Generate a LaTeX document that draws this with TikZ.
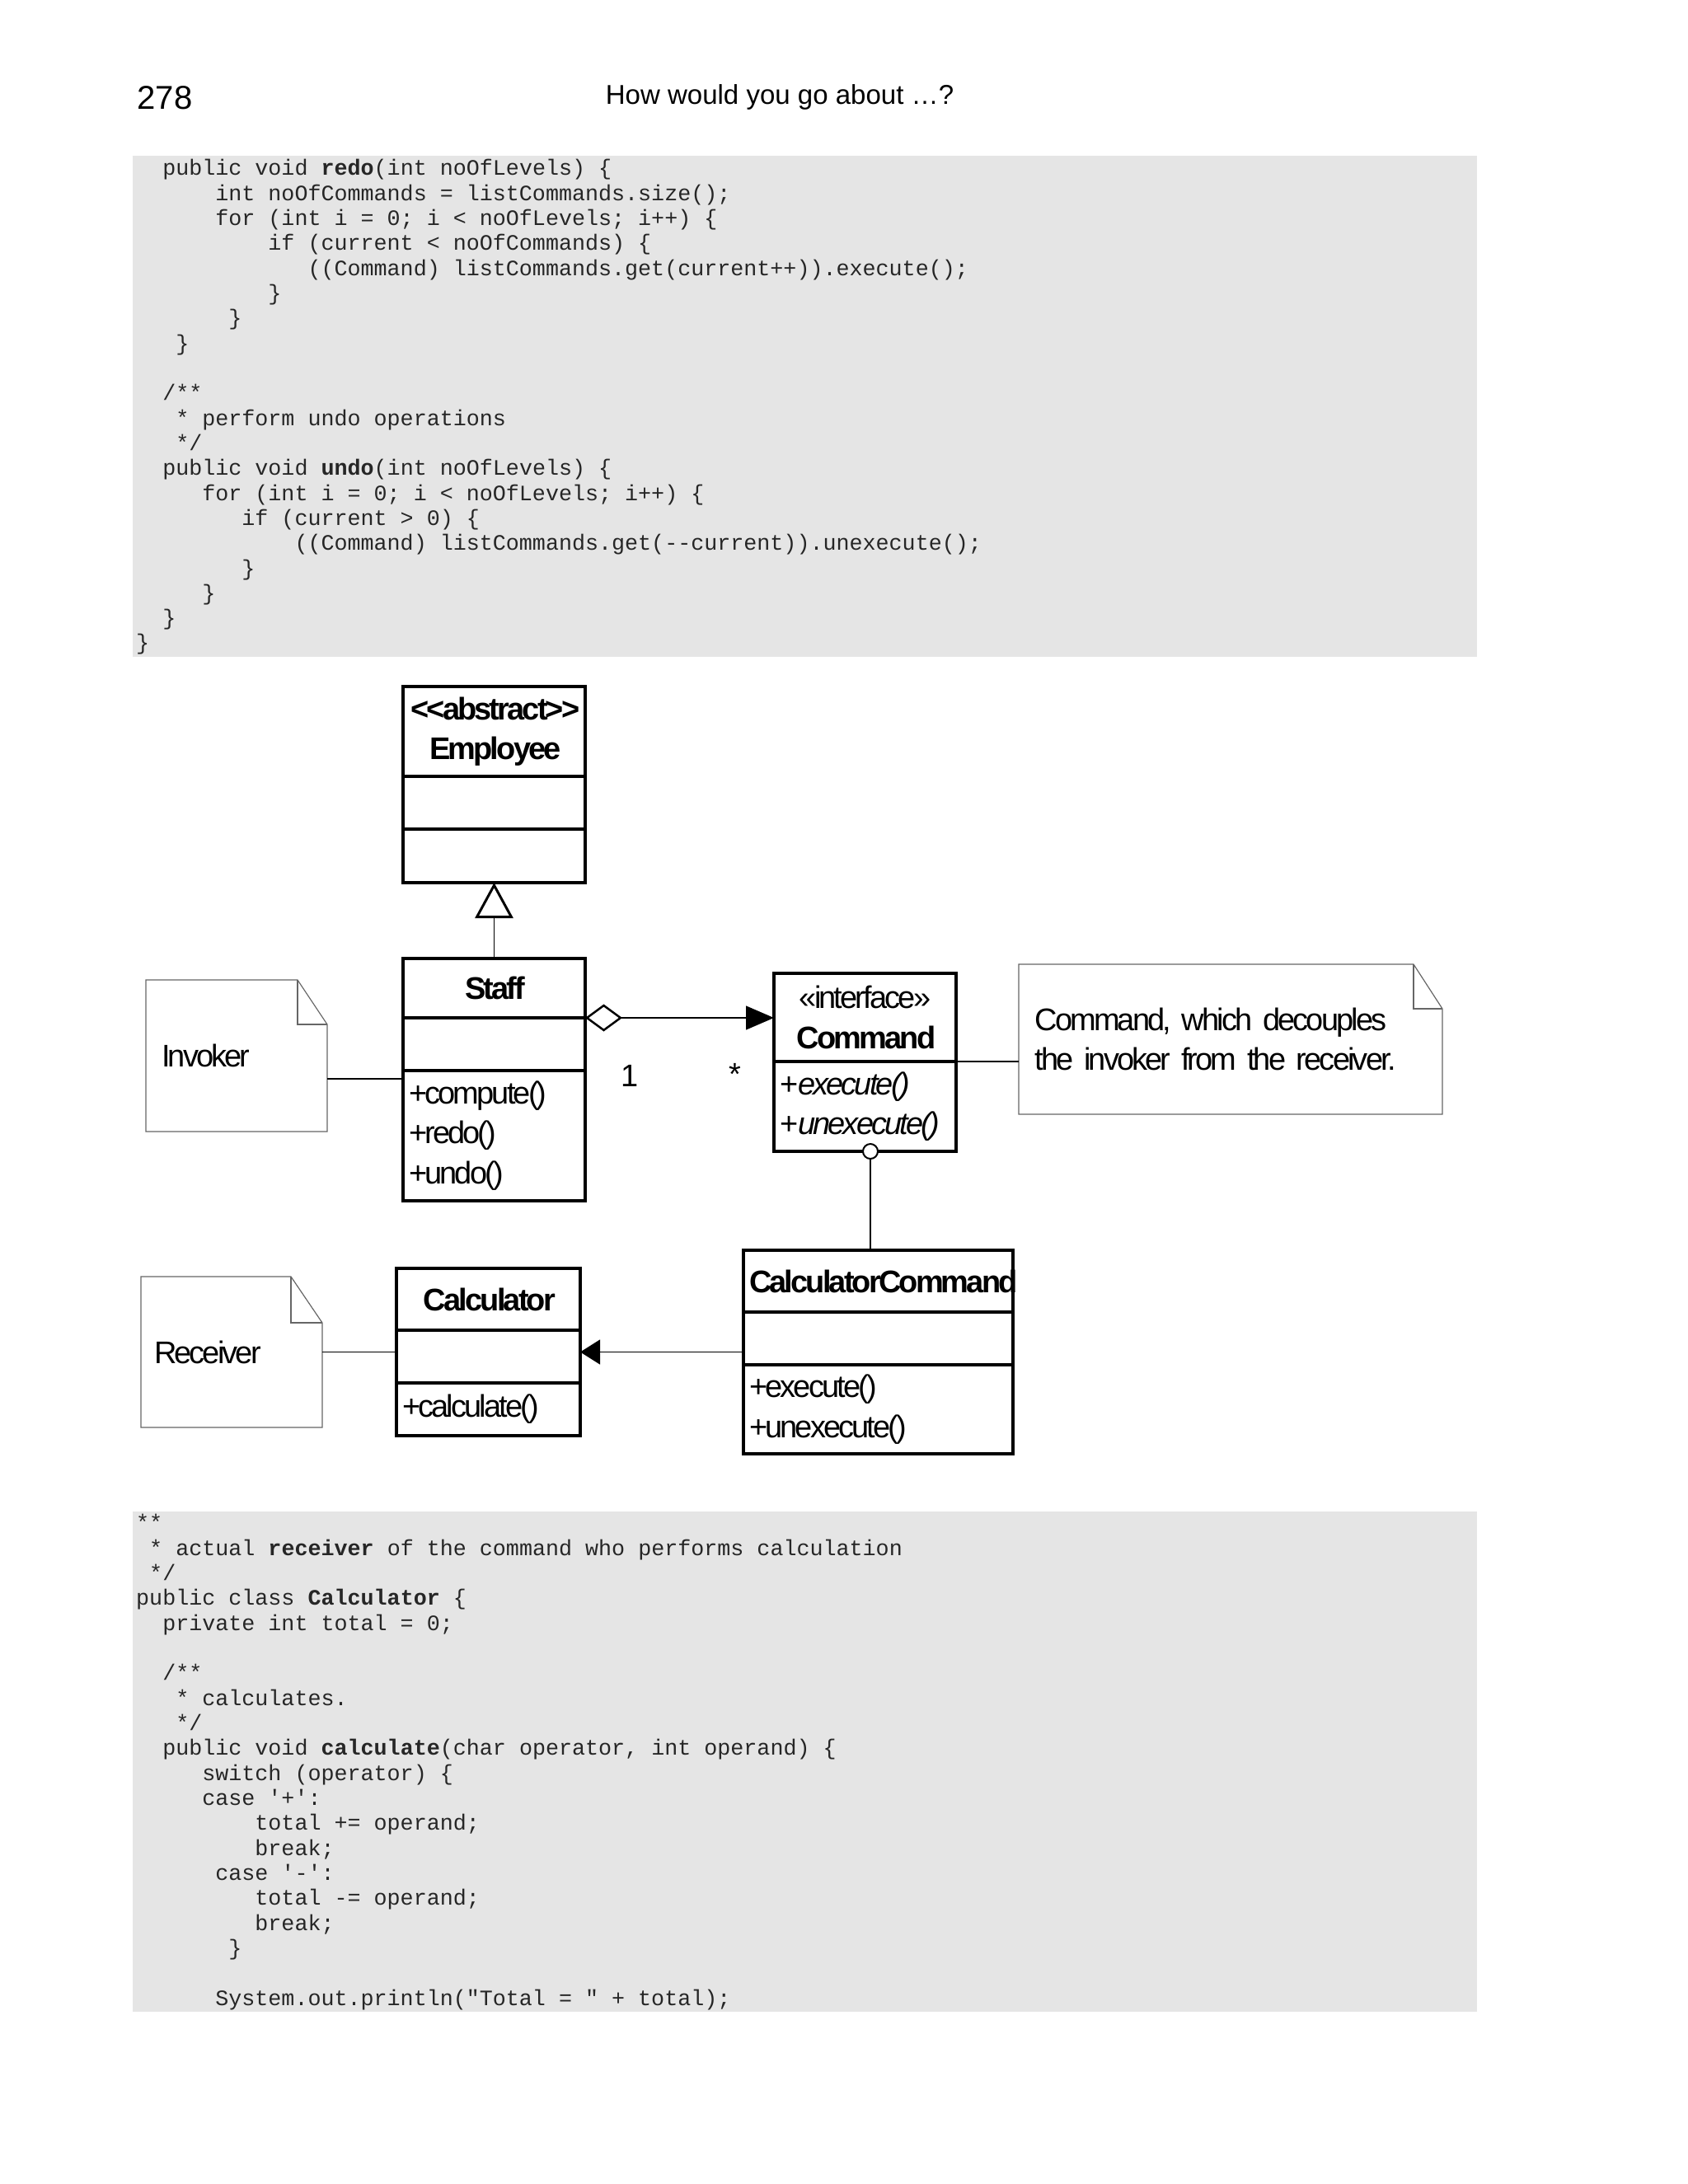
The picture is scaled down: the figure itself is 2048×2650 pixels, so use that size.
\documentclass[tikz,border=0pt]{standalone}
\usepackage{fontspec}
\setmainfont{Liberation Sans}
\setmonofont{Liberation Mono}
\newfontfamily\umlfont{Liberation Sans}[LetterSpace=-7.5]
\usetikzlibrary{arrows.meta,positioning,calc}

\definecolor{codebg}{RGB}{229,229,229}
\newcommand\umltext{\umlfont\fontsize{10.8}{13.8}\selectfont\spaceskip=0.17em\relax}
\newcommand\codetext{\ttfamily\fontsize{7.6}{8.63}\selectfont}
\newcommand\cind[1]{\hspace*{#1\dimexpr0.6em\relax}}

\begin{document}
\begin{tikzpicture}[x=0.1mm, y=-0.1mm,
  umlpart/.style={draw, line width=0.37mm, outer sep=0pt, inner xsep=0.7mm, inner ysep=0pt, text width=#1, font=\umltext},
  umlpart/.default=20.7mm,
  notebox/.style={anchor=north west, outer sep=0pt, inner ysep=0pt, text width=#1, align=left, font=\umltext},
  noteline/.style={draw=black!60, line width=0.12mm},
  assoc/.style={line width=0.14mm},
  aggr/.style={assoc, {Diamond[open, length=4.5mm, width=3.3mm, line width=0.25mm]}-{Triangle[length=3.4mm, width=2.9mm]}},
  inherit/.style={assoc, -{Triangle[open, length=4.3mm, width=4.6mm, line width=0.3mm]}},
  realize/.style={assoc, -{Circle[fill=white, length=2mm, width=2mm, line width=0.2mm]}, shorten >=-1mm},
  mult/.style={font=\umltext, anchor=base, inner sep=0pt},
  codetext/.style={anchor=north west, inner sep=0pt, align=left, text=black!85, font=\codetext}]

\useasboundingbox (0,0) rectangle (2048,2650);

%Page head
\node[anchor=base west, inner sep=0pt, font=\fontsize{11.4}{13}\selectfont] (pageno) at (166,132) {278};
\node[anchor=base, inner sep=0pt, font=\fontsize{9.4}{11}\selectfont] (title) at (946,126) {How would you go about …?};

%Code above
\fill[codebg] (161,189) rectangle (1792,797);
\node[codetext] (redocode) at (164.5,187.4) {\rule{0pt}{7pt}\cind{2}public void \textbf{redo}(int noOfLevels) \{\\
\cind{6}int noOfCommands = listCommands.size();\\
\cind{6}for (int i = 0; i < noOfLevels; i++) \{\\
\cind{10}if (current < noOfCommands) \{\\
\cind{13}((Command) listCommands.get(current++)).execute();\\
\cind{10}\}\\
\cind{7}\}\\
\cind{3}\}\\
\mbox{}\\
\cind{2}/**\\
\cind{3}* perform undo operations\\
\cind{3}*/\\
\cind{2}public void \textbf{undo}(int noOfLevels) \{\\
\cind{5}for (int i = 0; i < noOfLevels; i++) \{\\
\cind{8}if (current > 0) \{\\
\cind{12}((Command) listCommands.get(-{}-current)).unexecute();\\
\cind{8}\}\\
\cind{5}\}\\
\cind{2}\}\\
\}};

%Classes
\node[umlpart, align=center, minimum height=10.9mm, anchor=north west] (emp) at (489,833) {\textbf{<{}<abstract>{}>}\\\textbf{Employee}};
\node[umlpart, minimum height=6.4mm, below=0pt of emp] (empattr) {};
\node[umlpart, minimum height=6.5mm, below=0pt of empattr] (empops) {};

\node[umlpart, align=center, minimum height=7.2mm, anchor=north west] (staff) at (489,1163) {\textbf{Staff}};
\node[umlpart, minimum height=6.4mm, below=0pt of staff] (staffattr) {};
\node[umlpart, align=left, minimum height=15.8mm, below=0pt of staffattr] (staffops) {+compute()\\+redo()\\+undo()};

\node[umlpart, align=center, minimum height=10.7mm, anchor=north west] (cmd) at (939,1181) {«interface»\\\textbf{Command}};
\node[umlpart, align=left, minimum height=10.9mm, below=0pt of cmd] (cmdops) {+\textit{execute()}\\+\textit{unexecute()}};

\node[umlpart=31.3mm, align=center, minimum height=7.5mm, anchor=north west] (ccmd) at (902,1517) {\textbf{CalculatorCommand}};
\node[umlpart=31.3mm, minimum height=6.4mm, below=0pt of ccmd] (ccmdattr) {};
\node[umlpart=31.3mm, align=left, minimum height=10.8mm, below=0pt of ccmdattr] (ccmdops) {+execute()\\+unexecute()};

\node[umlpart=20.9mm, align=center, minimum height=7.5mm, anchor=north west] (calc) at (481,1539) {\textbf{Calculator}};
\node[umlpart=20.9mm, minimum height=6.4mm, below=0pt of calc] (calcattr) {};
\node[umlpart=20.9mm, align=left, minimum height=6.4mm, below=0pt of calcattr] (calcops) {+calculate()};

%Notes
\node[notebox=18.2mm, inner xsep=1.9mm, minimum height=18.4mm] (invoker) at (177,1189) {Invoker};
\node[notebox=47.5mm, inner xsep=1.95mm, minimum height=18.2mm] (cmdnote) at (1236,1170) {Command, which decouples\\the invoker from the receiver.};
\node[notebox=18.8mm, inner xsep=1.6mm, minimum height=18.3mm] (recv) at (171,1549) {Receiver};

\draw[noteline] (invoker.north west) -- ([xshift=-3.6mm]invoker.north east) -- ([yshift=-5.4mm]invoker.north east) -- (invoker.south east) -- (invoker.south west) -- cycle;
\draw[noteline] ([xshift=-3.6mm]invoker.north east) |- ([yshift=-5.4mm]invoker.north east);
\draw[noteline] (cmdnote.north west) -- ([xshift=-3.5mm]cmdnote.north east) -- ([yshift=-5.4mm]cmdnote.north east) -- (cmdnote.south east) -- (cmdnote.south west) -- cycle;
\draw[noteline] ([xshift=-3.5mm]cmdnote.north east) |- ([yshift=-5.4mm]cmdnote.north east);
\draw[noteline] (recv.north west) -- ([xshift=-3.8mm]recv.north east) -- ([yshift=-5.6mm]recv.north east) -- (recv.south east) -- (recv.south west) -- cycle;
\draw[noteline] ([xshift=-3.8mm]recv.north east) |- ([yshift=-5.6mm]recv.north east);

%Lines
\coordinate (invlink) at ([yshift=-1mm]staffops.north west);
\draw[assoc] (invoker.east |- invlink) -- (invlink);
\draw[assoc] (cmdops.north east) -- (cmdops.north east -| cmdnote.west);
\draw[assoc] (recv.east) -- (recv.east -| calcattr.west);

\draw[inherit] (staff.north) -- (empops.south);
\draw[aggr] (staff.south east) -- (staff.south east -| cmd.west);
\node[mult] (mone) at (764,1318) {1};
\node[mult] (mmany) at (891.5,1316) {*};

\draw[assoc, -{Triangle[length=2.4mm, width=3mm]}] (recv.east -| ccmdattr.west) -- (recv.east -| calcattr.east);

\coordinate (cmdlink) at ([xshift=0.65mm]cmdops.south);
\draw[realize] (ccmd.north -| cmdlink) -- (cmdlink);

%Code below
\fill[codebg] (161,1834) rectangle (1792,2441);
\node[codetext] (calccode) at (164.5,1831.4) {\rule{0pt}{7pt}**\\
\cind{1}* actual \textbf{receiver} of the command who performs calculation\\
\cind{1}*/\\
public class \textbf{Calculator} \{\\
\cind{2}private int total = 0;\\
\mbox{}\\
\cind{2}/**\\
\cind{3}* calculates.\\
\cind{3}*/\\
\cind{2}public void \textbf{calculate}(char operator, int operand) \{\\
\cind{5}switch (operator) \{\\
\cind{5}case '+':\\
\cind{9}total += operand;\\
\cind{9}break;\\
\cind{6}case '-':\\
\cind{9}total -= operand;\\
\cind{9}break;\\
\cind{7}\}\\
\mbox{}\\
\cind{6}System.out.println("Total = " + total);};

\end{tikzpicture}
\end{document}
